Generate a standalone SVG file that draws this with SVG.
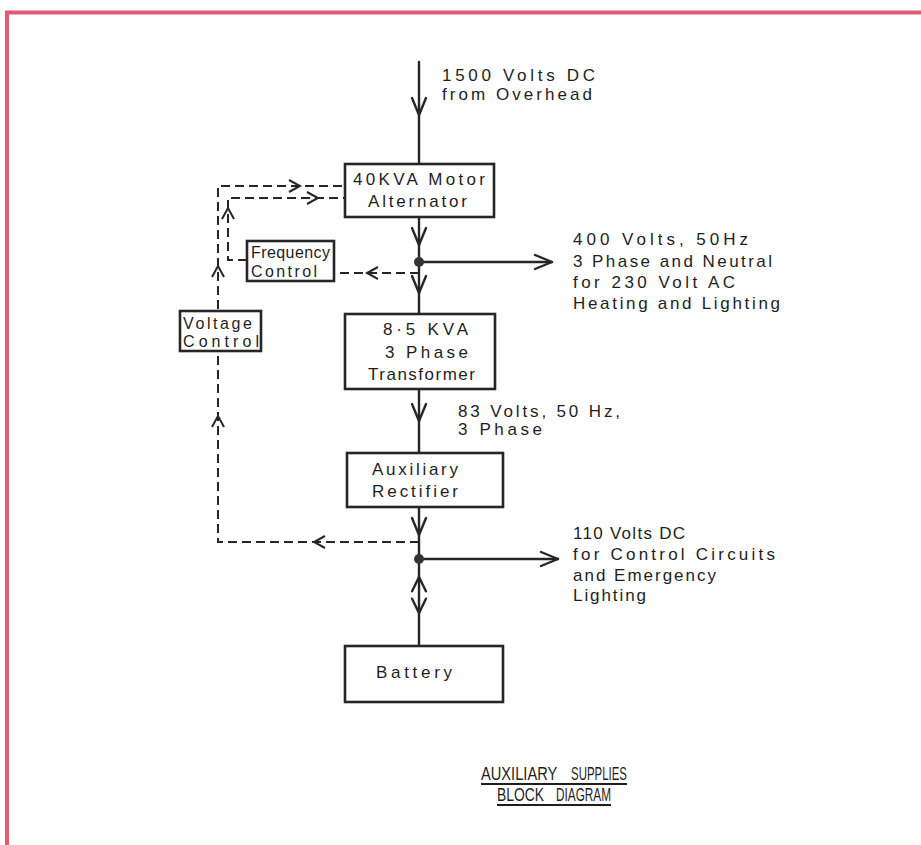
<svg xmlns="http://www.w3.org/2000/svg" xmlns:xlink="http://www.w3.org/1999/xlink" width="921" height="845" viewBox="0 0 921 845">
<style>
.ln{stroke:#262626;stroke-width:2.4;fill:none;stroke-linecap:round;stroke-linejoin:round}
.ds{stroke:#262626;stroke-width:2;fill:none;stroke-dasharray:9,5}
.bx{stroke:#262626;stroke-width:2.6;fill:#fff}
.t{font-family:"Liberation Sans",Arial,sans-serif;font-size:17px;fill:#1e1e1e}
.s{font-family:"Liberation Sans",Arial,sans-serif;font-size:16px;fill:#1e1e1e}
.ti{font-family:"Liberation Sans",Arial,sans-serif;font-size:19px;fill:#1e1e1e}
.br{stroke:#de5b73;fill:none}
</style>
<defs>
<path id="chev" d="M-7,-17 L0,0 L7,-17" class="ln"/>
<path id="chev2" d="M-6,-11 L0,0 L6,-11" stroke="#262626" stroke-width="2" fill="none"/>
</defs>
<rect width="921" height="845" fill="#fff"/>
<g id="border">
<line x1="5" y1="12.5" x2="921" y2="12.5" class="br" stroke-width="4"/>
<line x1="7" y1="11" x2="7" y2="845" class="br" stroke-width="4"/>
</g>
<g id="connectors">
<path class="ln" d="M419,62 V164 M419,217 V314 M419,389 V453 M419,507 V646 M419,262 H552 M419,559 H558"/>
<path class="ds" d="M419,542 H218 V186 H345"/>
<path class="ds" d="M419,273 H334"/>
<path class="ds" d="M247,260 H228 V198 H345"/>
<use xlink:href="#chev" transform="translate(419,115)"/>
<use xlink:href="#chev" transform="translate(419,245)"/>
<use xlink:href="#chev" transform="translate(419,293)"/>
<use xlink:href="#chev" transform="translate(419,421)"/>
<use xlink:href="#chev" transform="translate(419,535)"/>
<use xlink:href="#chev" transform="translate(419,577) scale(1,0.85) rotate(180)"/>
<use xlink:href="#chev" transform="translate(419,613) scale(1,0.85)"/>
<use xlink:href="#chev" transform="translate(552,262) rotate(-90)"/>
<use xlink:href="#chev" transform="translate(558,559) rotate(-90)"/>
<use xlink:href="#chev2" transform="translate(300,186) rotate(-90)"/>
<use xlink:href="#chev2" transform="translate(318,198) rotate(-90)"/>
<use xlink:href="#chev2" transform="translate(228,208) rotate(180)"/>
<use xlink:href="#chev2" transform="translate(218,266) rotate(180)"/>
<use xlink:href="#chev2" transform="translate(218,416) rotate(180)"/>
<use xlink:href="#chev2" transform="translate(367,273) rotate(90)"/>
<use xlink:href="#chev2" transform="translate(314,542) rotate(90)"/>
<circle cx="419" cy="262" r="5" fill="#333"/>
<circle cx="419" cy="559" r="5" fill="#333"/>
</g>
<g id="label-input">
<text class="t" x="442" y="81" textLength="153" lengthAdjust="spacing">1500 Volts DC</text>
<text class="t" x="442" y="100" textLength="150" lengthAdjust="spacing">from Overhead</text>
</g>
<g id="motor-alternator">
<rect class="bx" x="345" y="164" width="149" height="53"/>
<text class="t" x="353" y="185" textLength="132" lengthAdjust="spacing">40KVA Motor</text>
<text class="t" x="368" y="207" textLength="99" lengthAdjust="spacing">Alternator</text>
</g>
<g id="frequency-control">
<rect class="bx" x="247" y="241" width="87" height="40"/>
<text class="s" x="251" y="258" textLength="79" lengthAdjust="spacing">Frequency</text>
<text class="s" x="251" y="277" textLength="66" lengthAdjust="spacing">Control</text>
</g>
<g id="voltage-control">
<rect class="bx" x="180" y="311" width="81" height="40"/>
<text class="s" x="183" y="329" textLength="69" lengthAdjust="spacing">Voltage</text>
<text class="s" x="183" y="347" textLength="76" lengthAdjust="spacing">Control</text>
</g>
<g id="label-ac">
<text class="t" x="573" y="245" textLength="175" lengthAdjust="spacing">400 Volts, 50Hz</text>
<text class="t" x="573" y="267" textLength="199" lengthAdjust="spacing">3 Phase and Neutral</text>
<text class="t" x="573" y="288" textLength="162" lengthAdjust="spacing">for 230 Volt AC</text>
<text class="t" x="573" y="309" textLength="207" lengthAdjust="spacing">Heating and Lighting</text>
</g>
<g id="transformer">
<rect class="bx" x="345" y="314" width="150" height="75"/>
<text class="t" x="383" y="335" textLength="85" lengthAdjust="spacing">8·5 KVA</text>
<text class="t" x="385" y="358" textLength="83" lengthAdjust="spacing">3 Phase</text>
<text class="t" x="368" y="380" textLength="107" lengthAdjust="spacing">Transformer</text>
</g>
<g id="label-83v">
<text class="t" x="458" y="417" textLength="162" lengthAdjust="spacing">83 Volts, 50 Hz,</text>
<text class="t" x="458" y="435" textLength="84" lengthAdjust="spacing">3 Phase</text>
</g>
<g id="rectifier">
<rect class="bx" x="347" y="453" width="156" height="54"/>
<text class="t" x="372" y="475" textLength="86" lengthAdjust="spacing">Auxiliary</text>
<text class="t" x="372" y="497" textLength="86" lengthAdjust="spacing">Rectifier</text>
</g>
<g id="label-dc">
<text class="t" x="573" y="539" textLength="112" lengthAdjust="spacing">110 Volts DC</text>
<text class="t" x="573" y="560" textLength="202" lengthAdjust="spacing">for Control Circuits</text>
<text class="t" x="573" y="581" textLength="143" lengthAdjust="spacing">and Emergency</text>
<text class="t" x="573" y="601" textLength="73" lengthAdjust="spacing">Lighting</text>
</g>
<g id="battery">
<rect class="bx" x="345" y="646" width="158" height="56"/>
<text class="t" x="376" y="678" textLength="76" lengthAdjust="spacing">Battery</text>
</g>
<g id="title">
<text class="ti" y="780"><tspan x="481" textLength="76" lengthAdjust="spacingAndGlyphs">AUXILIARY</tspan> <tspan x="571" textLength="56" lengthAdjust="spacingAndGlyphs">SUPPLIES</tspan></text>
<line x1="481" y1="784" x2="627" y2="784" stroke="#1e1e1e" stroke-width="2"/>
<text class="ti" y="801"><tspan x="497" textLength="47" lengthAdjust="spacingAndGlyphs">BLOCK</tspan> <tspan x="556" textLength="55" lengthAdjust="spacingAndGlyphs">DIAGRAM</tspan></text>
<line x1="497" y1="805" x2="611" y2="805" stroke="#1e1e1e" stroke-width="2"/>
</g>
</svg>
